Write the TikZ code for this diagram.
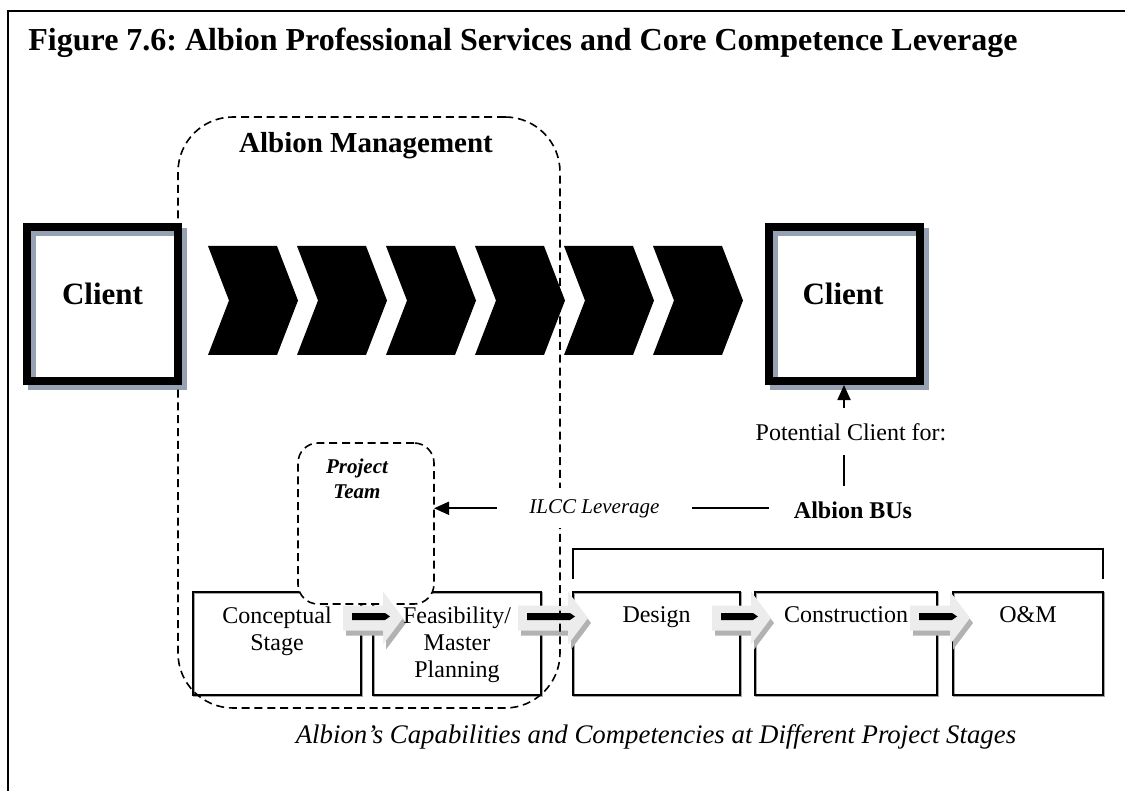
\documentclass[tikz,border=0pt]{standalone}
\usepackage{fontspec}
\setmainfont{Liberation Serif}
\usetikzlibrary{arrows.meta,calc}
\frenchspacing
\definecolor{shgray}{RGB}{150,162,180}
\definecolor{arrlight}{RGB}{236,236,236}
\definecolor{arrshade}{RGB}{178,178,178}
\definecolor{boxshade}{RGB}{165,165,165}
\newcommand\blockarr[2]{%
  \fill[arrshade] let \p1=#1, \p2=#2 in
    (\x1+1.5pt,\y1+3.75pt) -- (\x2-8.5pt,\y1+3.75pt) -- (\x2-8.5pt,\y1+10.75pt) -- (\x2+1.5pt,\y1-2.5pt) -- (\x2-8.5pt,\y1-15.75pt) -- (\x2-8.5pt,\y1-8.75pt) -- (\x1+1.5pt,\y1-8.75pt) -- cycle;
  \fill[arrlight] let \p1=#1, \p2=#2 in
    (\x1,\y1+6.25pt) -- (\x2-10pt,\y1+6.25pt) -- (\x2-10pt,\y1+13.25pt) -- (\x2,\y1) -- (\x2-10pt,\y1-13.25pt) -- (\x2-10pt,\y1-6.25pt) -- (\x1,\y1-6.25pt) -- cycle;
  \fill[black] let \p1=#1, \p2=#2 in
    (\x1+4.5pt,\y1+2.5pt) -- (\x2-9pt,\y1+2.5pt) -- (\x2-6.5pt,\y1+0.75pt) -- (\x2-9pt,\y1-1pt) -- (\x1+4.5pt,\y1-1pt) -- cycle;
}
\begin{document}
\begin{tikzpicture}[x=0.5pt,y=-0.5pt,
  clientbox/.style={draw=black, line width=4pt, minimum width=75.5pt, minimum height=77pt, inner sep=0pt, outer sep=2pt},
  clienttxt/.style={font=\fontsize{15.5}{18}\selectfont\bfseries, inner sep=0pt, anchor=base},
  stagebox/.style={draw=black, line width=0.9pt, minimum height=51.5pt, inner sep=0pt, outer sep=0pt},
  stagetxt/.style={font=\fontsize{12}{13.5}\selectfont, align=center, inner sep=0pt, anchor=north},
  dashline/.style={dash pattern=on 4pt off 2.4pt, line width=0.8pt},
  plaintxt/.style={font=\fontsize{12}{14}\selectfont, inner sep=0pt, anchor=base},
  thinline/.style={line width=0.9pt},
  arrline/.style={line width=0.9pt, -{Triangle[length=7.5pt,width=6.5pt]}},
]
\useasboundingbox (0,0) rectangle (1125,791);
% frame
\draw[line width=1pt] (8,791) -- (8,11) -- (1125,11);
% title
\node[anchor=base west, inner sep=0pt, font=\fontsize{16}{19}\selectfont\bfseries] (title) at (28,51)
  {Figure 7.6: Albion Professional Services and Core Competence Leverage};
% chevrons
\foreach \i in {0,...,5}{
  \fill ({208+89*\i},246) -- ({277+89*\i},246) -- ({298+89*\i},300.5) -- ({277+89*\i},355)
        -- ({208+89*\i},355) -- ({229+89*\i},300.5) -- cycle;
}
% client boxes
\node[clientbox, draw=shgray] (clientLsh) at (107.5,309) {};
\node[clientbox] (clientL) at (102.5,304) {};
\node[clienttxt] (clientLt) at ([yshift=-0.5pt]clientL.center) {Client};
\node[clientbox, draw=shgray] (clientRsh) at (849,309) {};
\node[clientbox] (clientR) at (844,304) {};
\node[clienttxt] (clientRt) at ([xshift=-0.5pt,yshift=-0.5pt]clientR.center) {Client};
% stage boxes
\foreach \n/\cx/\w in {s1/277/84, s2/457/84, s3/656.5/83.5, s4/846/91, s5/1028/75}{
  \node[stagebox, draw=boxshade, minimum width=\w pt] at (\cx+1.3,644.8) {};
  \node[stagebox, minimum width=\w pt] (\n) at (\cx,643.5) {};
}
% project team
\node[draw, dashline, fill=white, rounded corners=10pt, minimum width=68pt, minimum height=80.5pt, inner sep=0pt, outer sep=0pt] (pt) at (366,523.5) {};
% block arrows
\blockarr{([xshift=-9pt,yshift=12.75pt]s1.east)}{([xshift=15pt]s2.west)}
\blockarr{([xshift=-11.5pt,yshift=12.75pt]s2.east)}{([xshift=7.5pt]s3.west)}
\blockarr{([xshift=-14pt,yshift=12.75pt]s3.east)}{([xshift=8pt]s4.west)}
\blockarr{([xshift=-13.5pt,yshift=12.75pt]s4.east)}{([xshift=8.5pt]s5.west)}
% management
\node[draw, dashline, rounded corners=27.5pt, minimum width=191pt, minimum height=295.5pt, inner sep=0pt] (mgmt) at (369,412.5) {};
\node[anchor=base, inner sep=0pt, font=\fontsize{14.5}{17}\selectfont\bfseries] (mgmtt) at (366,153) {Albion Management};
% stage texts
\node[stagetxt] (s1t) at ([yshift=-7.3pt]s1.north) {Conceptual\\Stage};
\node[stagetxt] (s2t) at ([yshift=-7.3pt]s2.north) {Feasibility/\\Master\\Planning};
\node[stagetxt] (s3t) at ([yshift=-7.3pt]s3.north) {Design};
\node[stagetxt] (s4t) at ([yshift=-7.3pt]s4.north) {Construction};
\node[stagetxt] (s5t) at ([yshift=-7.3pt]s5.north) {O\&M};
% project team text
\node[anchor=north, align=center, inner sep=0pt, font=\fontsize{10.5}{12.5}\selectfont\bfseries\itshape] (ptt) at (357,458.5) {Project\\Team};
% bracket
\draw[thinline] ([yshift=6.5pt]s3.north west) -- ([yshift=21.5pt]s3.north west) -- ([yshift=21.5pt]s5.north east) -- ([yshift=6.5pt]s5.north east);
% right side texts
\node[plaintxt, outer ysep=7.5pt] (pc) at (851,440) {Potential Client for:};
\node[plaintxt, font=\fontsize{12}{14}\selectfont\bfseries, outer xsep=12.5pt, outer ysep=7.8pt] (bus) at (853,518) {Albion BUs};
\node[anchor=base, fill=white, inner xsep=4pt, inner ysep=5.5pt, outer xsep=12pt, font=\fontsize{10.5}{12.5}\selectfont\itshape] (ilcc) at (594.5,513) {ILCC Leverage};
% connectors
\draw[arrline] (clientR.south |- pc.north) -- (clientR.south);
\draw[thinline] (clientR.south |- pc.south) -- (clientR.south |- bus.north);
\draw[thinline] (bus.west |- ilcc.east) -- (ilcc.east);
\draw[arrline] (ilcc.west) -- (ilcc.west -| pt.east);
% caption
\node[anchor=base, inner sep=0pt, font=\fontsize{13.4}{16}\selectfont\itshape] (caption) at (656,743)
  {Albion’s Capabilities and Competencies at Different Project Stages};
\end{tikzpicture}
\end{document}
